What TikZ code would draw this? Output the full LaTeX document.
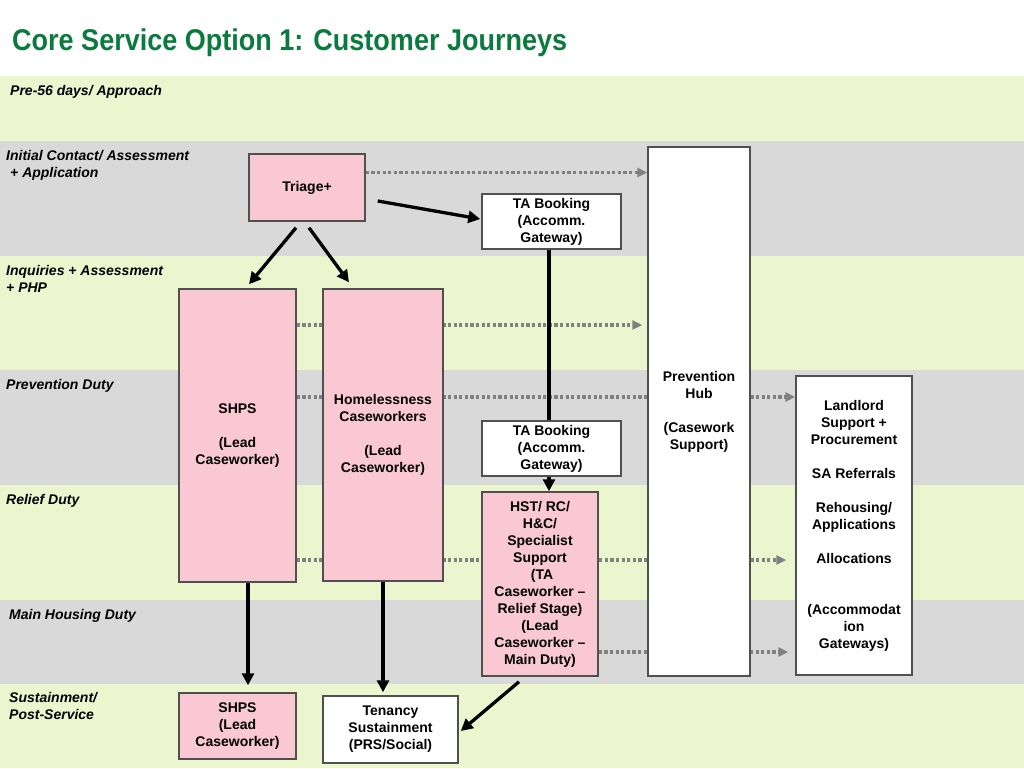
\documentclass[tikz,border=0pt]{standalone}
\usepackage{fontspec}
\setmainfont{Liberation Sans}
\usetikzlibrary{arrows.meta}
\definecolor{bandgreen}{RGB}{235,245,206}
\definecolor{bandgray}{RGB}{217,217,217}
\definecolor{boxpink}{RGB}{249,200,211}
\definecolor{titlegreen}{RGB}{10,122,62}
\definecolor{dotgray}{RGB}{128,128,128}
\definecolor{boxline}{RGB}{80,80,80}
\pgfdeclarelayer{bands}
\pgfdeclarelayer{dots}
\pgfsetlayers{bands,dots,main}
\tikzset{
  box/.style={draw=boxline, line width=1.5pt, align=center, inner sep=0pt,
    font=\fontsize{14}{17}\selectfont\bfseries},
  pinkbox/.style={box, fill=boxpink},
  whitebox/.style={box, fill=white},
  lanelabel/.style={anchor=north west, inner sep=0pt, align=left,
    font=\fontsize{14}{17}\selectfont\bfseries\itshape},
  arr/.style={line width=3.3pt, -{Triangle[length=12pt,width=12pt]}},
  plainline/.style={line width=3.3pt},
  dotarr/.style={dotgray, line width=3.2pt, dash pattern=on 3.2pt off 2.4pt,
    -{Triangle[length=10pt,width=9pt]}},
}
\begin{document}
\begin{tikzpicture}[x=1pt,y=-1pt]
\useasboundingbox (0,0) rectangle (1024,768);
\begin{pgfonlayer}{bands}
  \fill[white] (0,0) rectangle (1024,768);
  \fill[bandgreen] (0,76) rectangle (1024,141);
  \fill[bandgray] (0,141) rectangle (1024,256);
  \fill[bandgreen] (0,256) rectangle (1024,370);
  \fill[bandgray] (0,370) rectangle (1024,485);
  \fill[bandgreen] (0,485) rectangle (1024,600);
  \fill[bandgray] (0,600) rectangle (1024,684);
  \fill[bandgreen] (0,684) rectangle (1024,768);
\end{pgfonlayer}

% title
\node[anchor=base west, inner sep=0pt, text=titlegreen, font=\bfseries] (title) at (12,51)
  {\resizebox{555pt}{\height}{\fontsize{30}{30}\selectfont Core Service Option 1: Customer Journeys}};

% lane labels
\node[lanelabel] (l1) at (10,85) {Pre-56 days/ Approach};
\node[lanelabel] (l2) at (6,150) {Initial Contact/ Assessment\\\hspace*{4pt}+ Application};
\node[lanelabel] (l3) at (6,265) {Inquiries + Assessment\\+ PHP};
\node[lanelabel] (l4) at (6,379) {Prevention Duty};
\node[lanelabel] (l5) at (6,494) {Relief Duty};
\node[lanelabel] (l6) at (9,609) {Main Housing Duty};
\node[lanelabel] (l7) at (9,692) {Sustainment/\\Post-Service};

% boxes
\node[pinkbox, minimum width=116pt, minimum height=67pt] (triage) at (307,187.5) {Triage+};
\node[whitebox, minimum width=139pt, minimum height=55pt] (ta1) at (551.5,221.5) {TA Booking\\(Accomm.\\Gateway)};
\node[whitebox, minimum width=102pt, minimum height=529pt] (hub) at (699,411.5) {Prevention\\Hub\\~\\(Casework\\Support)};
\node[pinkbox, minimum width=117pt, minimum height=293pt] (shpsbig) at (237.5,435.5) {SHPS\\~\\(Lead\\Caseworker)};
\node[pinkbox, minimum width=120pt, minimum height=292pt] (homeless) at (383,435) {Homelessness\\Caseworkers\\~\\(Lead\\Caseworker)};
\node[whitebox, minimum width=139pt, minimum height=55pt] (ta2) at (551.5,448.5) {TA Booking\\(Accomm.\\Gateway)};
\node[pinkbox, minimum width=116pt, minimum height=184pt] (hst) at (540,584) {HST/ RC/\\H\&C/\\Specialist\\Support\\\hspace*{4pt}(TA\\Caseworker \textendash\\Relief Stage)\\(Lead\\Caseworker \textendash\\Main Duty)};
\node[whitebox, minimum width=116pt, minimum height=299pt] (landlord) at (854,525.5) {Landlord\\Support +\\Procurement\\~\\SA Referrals\\~\\Rehousing/\\Applications\\~\\Allocations\\~\\~\\(Accommodat\\ion\\Gateways)};
\node[pinkbox, minimum width=117pt, minimum height=66pt] (shpssmall) at (237.5,726) {SHPS\\(Lead\\Caseworker)};
\node[whitebox, minimum width=135pt, minimum height=67pt] (tenancy) at (390.5,729.5) {Tenancy\\Sustainment\\(PRS/Social)};

% rows for dotted connectors
\coordinate (r1) at (0,172.5);
\coordinate (r2) at (0,325);
\coordinate (r3) at (0,397);
\coordinate (r4) at (0,560);
\coordinate (r5) at (0,652);

\begin{pgfonlayer}{dots}
  \draw[dotarr] (triage.east |- r1) -- (hub.west |- r1);
  \draw[dotarr, shorten >=5pt] (shpsbig.east |- r2) -- (hub.west |- r2);
  \draw[dotarr] (shpsbig.east |- r3) -- (landlord.west |- r3);
  \draw[dotarr, shorten >=9pt] (shpsbig.east |- r4) -- (landlord.west |- r4);
  \draw[dotarr, shorten >=7pt] (hst.east |- r5) -- (landlord.west |- r5);
\end{pgfonlayer}

% solid connectors
\draw[arr] ([shift={(-11,6)}]triage.south) -- ([shift={(11.5,-4)}]shpsbig.north);
\draw[arr] ([shift={(2,6)}]triage.south) -- ([shift={(-34,-6)}]homeless.north);
\draw[arr] ([shift={(12,13.5)}]triage.east) -- ([shift={(-1,-2.5)}]ta1.west);
\draw[plainline] ([xshift=-2.5pt]ta1.south) -- ([xshift=-2.5pt]ta2.north);
\draw[arr] ([xshift=-2.5pt]ta2.south) -- ([xshift=9pt]hst.north);
\draw[arr] ([xshift=10.5pt]shpsbig.south) -- ([shift={(10.5,-7)}]shpssmall.north);
\draw[arr] (homeless.south) -- ([shift={(-7.5,-3)}]tenancy.north);
\draw[arr] ([shift={(-21,5)}]hst.south) -- ([shift={(2,1.5)}]tenancy.east);
\end{tikzpicture}
\end{document}
